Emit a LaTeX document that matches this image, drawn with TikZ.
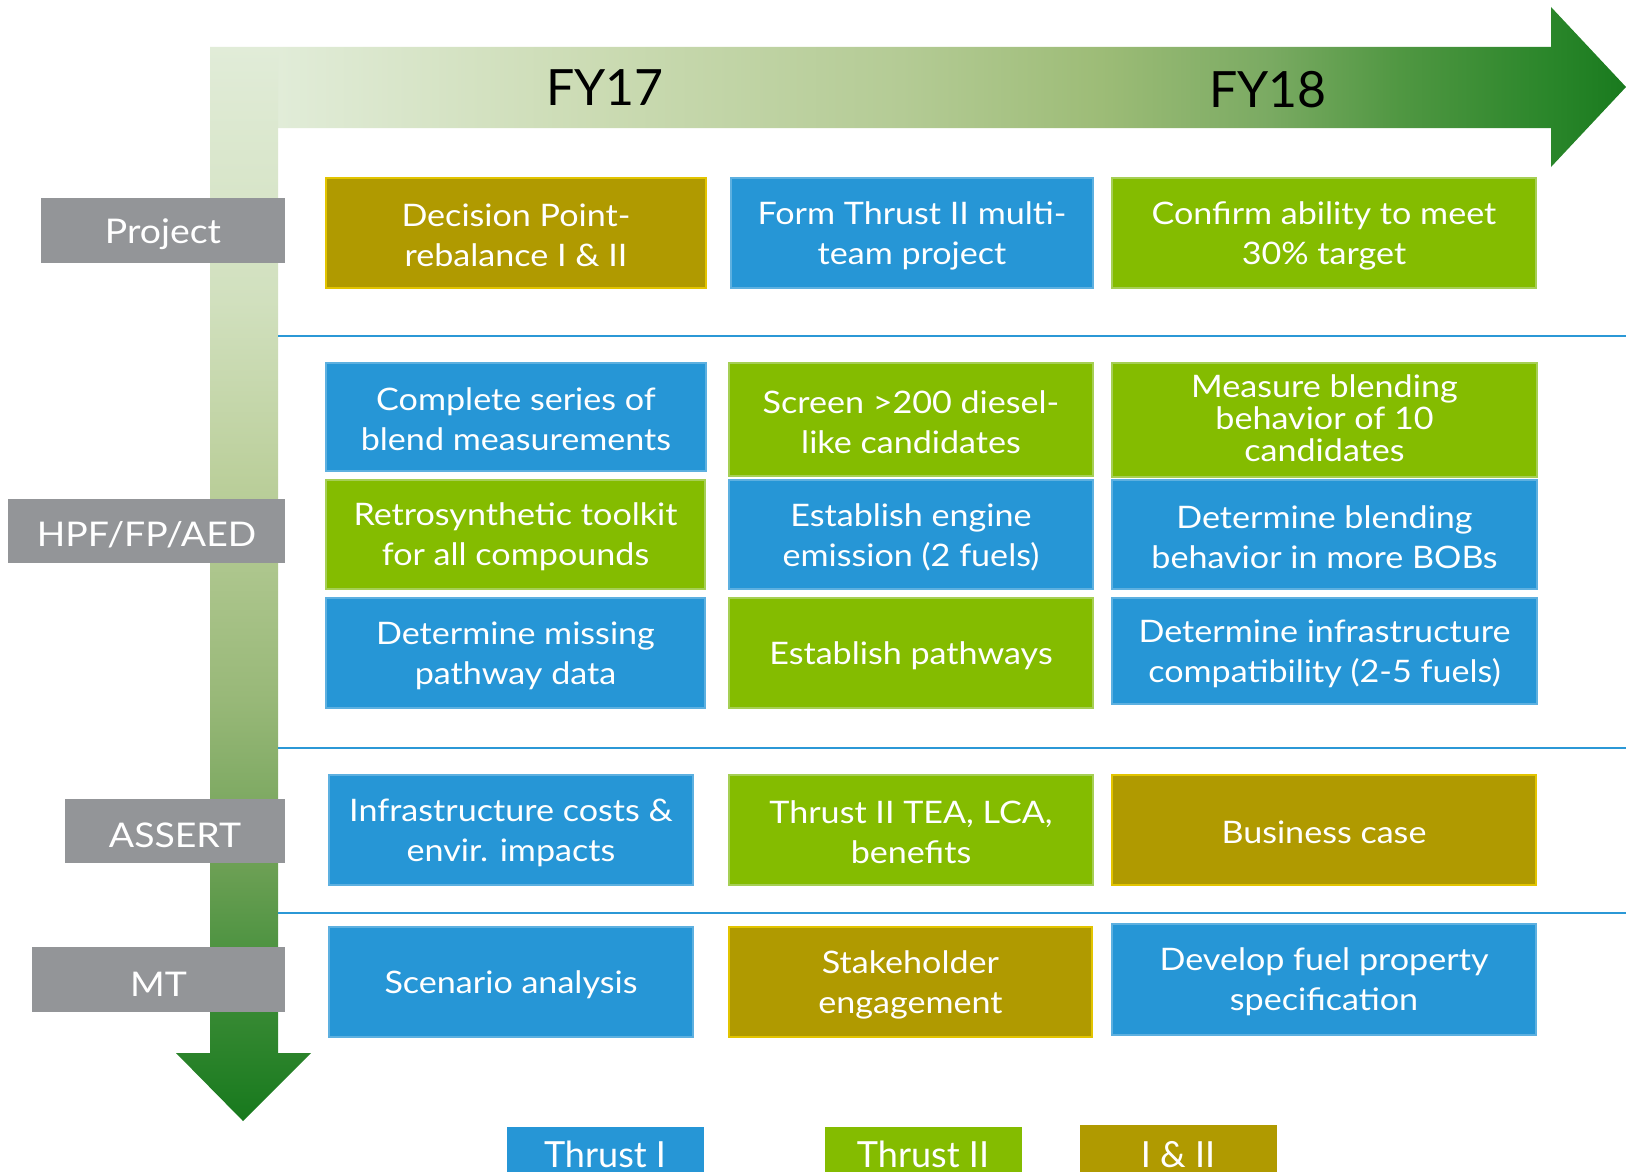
\documentclass[tikz,border=0pt]{standalone}
\usepackage{fontspec}
\setmainfont{Lato}[FakeStretch=1.1]
\newfontfamily\plainlato{Lato}
\definecolor{tblue}{HTML}{2696D6}
\definecolor{tbluel}{HTML}{5DB0E0}
\definecolor{tgreen}{HTML}{84BC00}
\definecolor{tgreenl}{HTML}{A6CF55}
\definecolor{tolive}{HTML}{B09A00}
\definecolor{tyellow}{HTML}{E2C400}
\definecolor{tgray}{HTML}{939598}
\definecolor{sepblue}{HTML}{2B98D6}
\definecolor{hA}{HTML}{E1ECD8}
\definecolor{hB}{HTML}{CBDBB3}
\definecolor{hC}{HTML}{B4CB95}
\definecolor{hD}{HTML}{9DBC77}
\definecolor{hE}{HTML}{7AAA62}
\definecolor{hF}{HTML}{509742}
\definecolor{hG}{HTML}{2A862A}
\definecolor{hH}{HTML}{197A1E}
\definecolor{vA}{HTML}{17791D}
\definecolor{vB}{HTML}{3A8B35}
\definecolor{vC}{HTML}{6FA156}
\definecolor{vD}{HTML}{98B878}
\definecolor{vE}{HTML}{BBCF9B}
\definecolor{vF}{HTML}{D1E0BE}
\definecolor{vG}{HTML}{E1ECD8}
\pgfdeclarehorizontalshading{hband}{100bp}{color(0bp)=(hA); color(25bp)=(hA); color(36.9bp)=(hB); color(48.1bp)=(hC); color(55.5bp)=(hD); color(61.8bp)=(hE); color(66.6bp)=(hF); color(72.2bp)=(hG); color(75bp)=(hH); color(100bp)=(hH)}
\pgfdeclareverticalshading{vband}{100bp}{color(0bp)=(vA); color(25bp)=(vA); color(30.6bp)=(vB); color(37.2bp)=(vC); color(44.6bp)=(vD); color(54.8bp)=(vE); color(63.2bp)=(vF); color(75bp)=(vG); color(100bp)=(vG)}
\newcommand{\tbox}[8][28pt]{\node[#3, minimum width={(#6-#4)*1pt}, minimum height={(#7-#5)*1pt}] (#2) at ({(#4+#6)/2},{(#5+#7)/2}) {\rule{0pt}{#1}#8};}
\tikzset{
  box/.style={rectangle, inner sep=0pt, text=white, align=center, line width=1.2pt, font=\fontsize{31}{40}\selectfont},
  bluebox/.style={box, fill=tblue, draw=tbluel},
  greenbox/.style={box, fill=tgreen, draw=tgreenl},
  olivebox/.style={box, fill=tolive, draw=tyellow, line width=2.5pt},
  lab/.style={rectangle, inner sep=0pt, fill=tgray, text=white, font=\fontsize{34}{40}\selectfont},
  sep/.style={draw=sepblue, line width=2.2pt},
  year/.style={inner sep=0pt, text=black, font=\plainlato\fontsize{50}{60}\selectfont},
  legend/.style={rectangle, anchor=north, minimum width=197pt, inner xsep=0pt, inner ysep=13pt, text height=27pt, text depth=15pt, text=white, font=\plainlato\fontsize{36}{40}\selectfont}
}
\begin{document}
\begin{tikzpicture}[x=1pt,y=-1pt]
\useasboundingbox[fill=white] (0,0) rectangle (1626,1172);
% timeline arrows
\shade[shading=hband] (278,47) -- (1551,47) -- (1551,7) -- (1626,87) -- (1551,167) -- (1551,128) -- (278,128) -- cycle;
\shade[shading=vband] (210,47) -- (278,47) -- (278,1053) -- (311,1053) -- (243,1121) -- (176,1053) -- (210,1053) -- cycle;
\node[year] (fy17) at (605,88) {FY17};
\node[year] (fy18) at (1268,90) {FY18};
% separators
\coordinate (s1a) at (278,336); \coordinate (s1b) at (1626,336);
\coordinate (s2a) at (278,748); \coordinate (s2b) at (1626,748);
\coordinate (s3a) at (278,913); \coordinate (s3b) at (1626,913);
\draw[sep] (s1a) -- (s1b);
\draw[sep] (s2a) -- (s2b);
\draw[sep] (s3a) -- (s3b);
% row labels
\tbox[33pt]{lproj}{lab}{41}{198}{285}{263}{Project}
\tbox[33pt]{lhpf}{lab}{8}{499}{285}{563}{HPF/FP/AED}
\tbox[33pt]{lass}{lab}{65}{799}{285}{863}{ASSERT}
\tbox[33pt]{lmt}{lab}{32}{947}{285}{1012}{MT}
% project row
\tbox{p1}{olivebox}{326}{178}{706}{288}{Decision Point-\\rebalance I \& II}
\tbox{p2}{bluebox}{731}{178}{1093}{288}{Form Thrust II multi-\\team project}
\tbox{p3}{greenbox}{1112}{178}{1536}{288}{Confirm ability to meet\\30\% target}
% HPF rows
\tbox{h11}{bluebox}{326}{363}{706}{471}{Complete series of\\blend measurements}
\tbox{h12}{greenbox}{729}{363}{1093}{476}{Screen >200 diesel-\\like candidates}
\tbox[0pt]{h13}{greenbox, font=\fontsize{31}{32}\selectfont}{1112}{363}{1537}{477}{Measure blending\\behavior of 10\\candidates\rule[-4pt]{0pt}{0pt}}
\tbox{h21}{greenbox}{326}{480}{705}{589}{Retrosynthetic toolkit\\for all compounds}
\tbox{h22}{bluebox}{729}{480}{1093}{589}{Establish engine\\emission (2 fuels)}
\tbox{h23}{bluebox}{1112}{480}{1537}{589}{Determine blending\\behavior in more BOBs}
\tbox{h31}{bluebox}{326}{598}{705}{708}{Determine missing\\pathway data}
\tbox{h32}{greenbox}{729}{598}{1093}{708}{Establish pathways}
\tbox{h33}{bluebox}{1112}{598}{1537}{704}{Determine infrastructure\\compatibility (2-5 fuels)}
% ASSERT row
\tbox{a1}{bluebox}{329}{775}{693}{885}{Infrastructure costs \&\\envir. impacts}
\tbox{a2}{greenbox}{729}{775}{1093}{885}{Thrust II TEA, LCA,\\benefits}
\tbox{a3}{olivebox}{1112}{775}{1536}{885}{Business case}
% MT row
\tbox{m1}{bluebox}{329}{927}{693}{1037}{Scenario analysis}
\tbox{m2}{olivebox}{729}{927}{1092}{1037}{Stakeholder\\engagement}
\tbox{m3}{bluebox}{1112}{924}{1536}{1035}{Develop fuel property\\specification}
% legend
\node[legend, fill=tblue] (leg1) at (605,1127) {Thrust I};
\node[legend, fill=tgreen] (leg2) at (923,1127) {Thrust II};
\node[legend, fill=tolive, inner ysep=15pt] (leg3) at (1178,1125) {I \& II};
\end{tikzpicture}
\end{document}
